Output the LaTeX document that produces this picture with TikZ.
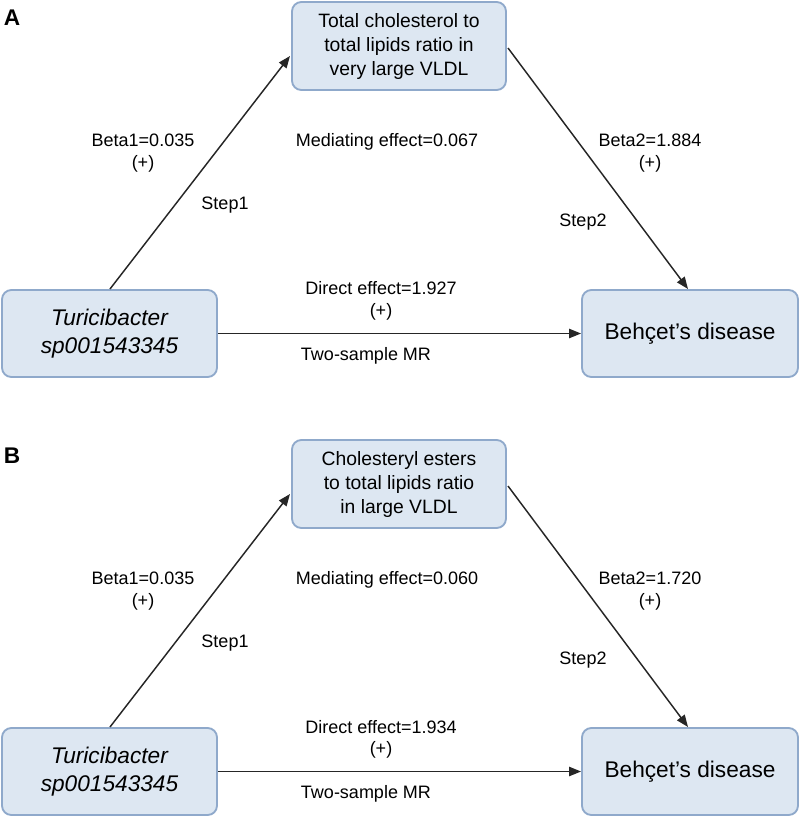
\documentclass[tikz,border=0pt]{standalone}
\usepackage{fontspec}
\setmainfont{Liberation Sans}
\usetikzlibrary{arrows.meta}
\definecolor{boxfill}{HTML}{DDE7F2}
\definecolor{boxline}{HTML}{8FA9CB}
\begin{document}
\begin{tikzpicture}[x=0.75pt,y=-0.75pt,
  box/.style={draw=boxline,fill=boxfill,line width=1.4pt,rounded corners=7pt,align=center,inner sep=0pt},
  lab/.style={align=center,font=\fontsize{13.5}{16}\selectfont},
  arr/.style={-{Triangle[length=9pt,width=7pt]},line width=1.1pt,draw=black!85},
  pl/.style={font=\bfseries\fontsize{17}{20}\selectfont}]
\useasboundingbox (0,0) rectangle (800,818);
\foreach \o/\L/\med/\medv/\bb/\dd in {0/A/{Total cholesterol to\\total lipids ratio in\\very large VLDL}/0.067/1.884/1.927, 438/B/{Cholesteryl esters\\to total lipids ratio\\in large VLDL}/0.060/1.720/1.934}{
\begin{scope}[yshift=-\o*0.75pt]
\node[pl] (p\L) at (12,18) {\L};
\node[box,minimum width=214*0.75pt,minimum height=88*0.75pt,font=\fontsize{14.5}{18}\selectfont] (m\L) at (399,46) {\med};
\node[box,minimum width=215*0.75pt,minimum height=87*0.75pt,font=\itshape\fontsize{17}{21}\selectfont] (x\L) at (109.5,333.5) {Turicibacter\\sp001543345};
\node[box,minimum width=216*0.75pt,minimum height=87*0.75pt,font=\fontsize{17}{21}\selectfont] (y\L) at (690,333.5) {Behçet's disease};
\coordinate (s1\L) at (110,289);
\coordinate (e1\L) at (290,56);
\coordinate (s2\L) at (508,48);
\coordinate (e2\L) at (688,289);
\draw[arr] (s1\L) -- (e1\L);
\draw[arr] (s2\L) -- (e2\L);
\draw[arr] (x\L.east) -- (y\L.west);
\node[lab] (b1\L) at (143,153) {Beta1=0.035\\(+)};
\node[lab] (st1\L) at (225,205) {Step1};
\node[lab] (me\L) at (387,142) {Mediating effect=\medv};
\node[lab] (b2\L) at (650,153) {Beta2=\bb\\(+)};
\node[lab] (st2\L) at (583,222) {Step2};
\node[lab] (de\L) at (381,301) {Direct effect=\dd\\(+)};
\node[lab] (tw\L) at (366,356) {Two-sample MR};
\end{scope}}
\end{tikzpicture}
\end{document}
